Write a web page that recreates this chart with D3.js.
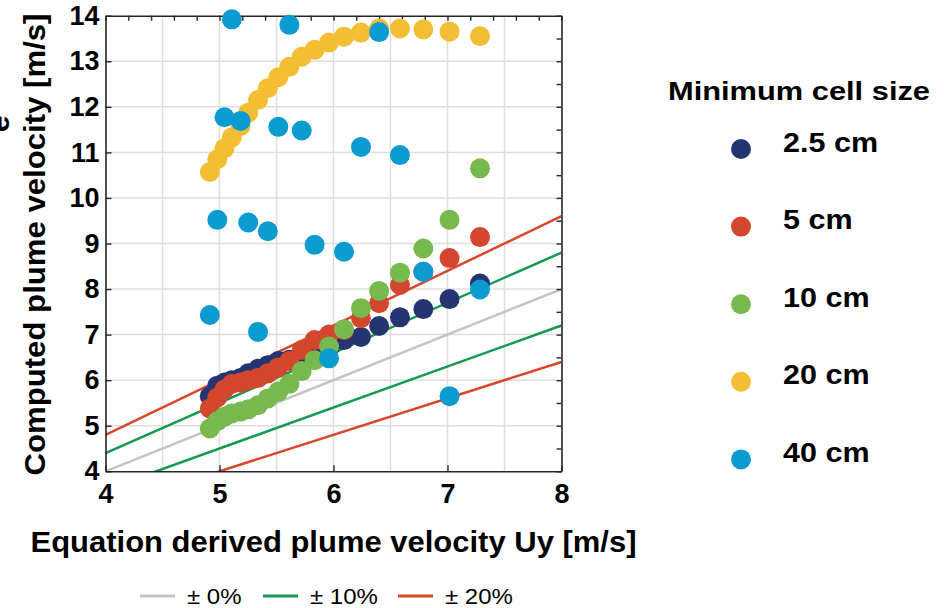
<!DOCTYPE html>
<meta charset="utf-8">
<script src="https://d3js.org/d3.v7.min.js"></script>
<style>
  body { margin: 0; background: #fff; }
  text { font-family: "Liberation Sans", Arial, sans-serif; }
</style>
<div id="chart"></div>
<script>

// equation derived plume velocity Uy [m/s], shared by all runs
var uyValues = [4.915, 4.981, 5.044, 5.108, 5.185, 5.252, 5.338, 5.424, 5.516, 5.613,
                5.721, 5.834, 5.961, 6.092, 6.241, 6.400, 6.583, 6.788, 7.018, 7.285];

// computed plume velocity [m/s] for each minimum cell size
var cell2p5 = [5.65, 5.88, 5.95, 6.00, 6.05, 6.15, 6.25, 6.33, 6.42, 6.45,
               6.50, 6.60, 6.70, 6.88, 6.95, 7.19, 7.38, 7.56, 7.78, 8.12];
var cell5   = [5.38, 5.62, 5.80, 5.92, 5.95, 6.00, 6.05, 6.15, 6.28, 6.42,
               6.66, 6.88, 7.00, 7.10, 7.36, 7.69, 8.09, 8.38, 8.68, 9.14];
var cell10  = [4.94, 5.10, 5.20, 5.27, 5.31, 5.36, 5.45, 5.60, 5.75, 5.92,
               6.20, 6.44, 6.74, 7.12, 7.58, 7.96, 8.36, 8.89, 9.52, 10.65];
var cell20  = [10.57, 10.85, 11.09, 11.33, 11.58, 11.87, 12.15, 12.41, 12.65, 12.88,
               13.10, 13.25, 13.41, 13.54, 13.63, 13.72, 13.72, 13.70, 13.65, 13.55];
var cell40  = [7.43, 9.52, 11.77, 13.92, 11.69, 9.46, 7.06, 9.27, 11.56, 13.80,
               11.48, 8.97, 6.48, 8.82, 11.12, 13.64, 10.94, 8.38, 5.65, 7.99];

var seriesNames  = ["2.5 cm", "5 cm", "10 cm", "20 cm", "40 cm"];
var seriesValues = [cell2p5, cell5, cell10, cell20, cell40];
var seriesColors = ["#253572", "#d4462e", "#77b94c", "#f3be33", "#0b9bd0"];

// deviation bands y = (1 +/- p) * x
var bandNames  = ["\u00b1 0%", "\u00b1 10%", "\u00b1 20%"];
var bandPct    = [0, 0.1, 0.2];
var bandColors = ["#c4c4c4", "#139a50", "#d9472c"];

var xTicks = [4, 5, 6, 7, 8];
var yTicks = [4, 5, 6, 7, 8, 9, 10, 11, 12, 13, 14];

var W = 944, H = 608;
var margin = {top: 15.7, left: 105.5},
    width = 456,
    height = 455.6;

var svg = d3.select("#chart")
  .append("svg")
    .attr("width", W)
    .attr("height", H);

var g = svg.append("g")
    .attr("transform", "translate(" + margin.left + "," + margin.top + ")");

var x = d3.scaleLinear().domain([4, 8]).range([0, width]);
var y = d3.scaleLinear().domain([4, 14]).range([height, 0]);

// the original figure's lettering is a bit wider than Arial, stretch it
function stretch(sel, k) {
  sel.each(function() {
    var len = this.getComputedTextLength();
    d3.select(this)
      .attr("textLength", len * k)
      .attr("lengthAdjust", "spacingAndGlyphs");
  });
}

// grid
g.append("g")
  .selectAll("line")
  .data(d3.range(4.5, 8, 0.5))
  .enter().append("line")
    .attr("x1", function(d) { return x(d); })
    .attr("x2", function(d) { return x(d); })
    .attr("y1", 0).attr("y2", height)
    .attr("stroke", "#dedede").attr("stroke-width", 1.5);
g.append("g")
  .selectAll("line")
  .data(d3.range(5, 14, 1))
  .enter().append("line")
    .attr("y1", function(d) { return y(d); })
    .attr("y2", function(d) { return y(d); })
    .attr("x1", 0).attr("x2", width)
    .attr("stroke", "#dedede").attr("stroke-width", 1.5);

// reference lines, clipped to the plot area
svg.append("clipPath").attr("id", "plotclip")
  .append("rect").attr("width", width).attr("height", height);

var bandLines = [];
bandPct.forEach(function(p, i) {
  var facs = p === 0 ? [1] : [1 + p, 1 - p];
  facs.forEach(function(f) { bandLines.push({f: f, color: bandColors[i]}); });
});
g.append("g")
  .attr("clip-path", "url(#plotclip)")
  .selectAll("line")
  .data(bandLines)
  .enter().append("line")
    .attr("x1", x(4)).attr("y1", function(d) { return y(4 * d.f); })
    .attr("x2", x(8)).attr("y2", function(d) { return y(8 * d.f); })
    .attr("stroke", function(d) { return d.color; })
    .attr("stroke-width", 2.5);

// axes
var axisColor = "#262626";
function styleAxis(sel, fontSize) {
  sel.select(".domain").attr("stroke", axisColor).attr("stroke-width", 1.6);
  sel.selectAll(".tick line").attr("stroke", axisColor).attr("stroke-width", 1.4);
  sel.selectAll(".tick text")
    .attr("fill", "#000")
    .style("font-size", fontSize)
    .style("font-weight", "bold");
}

g.append("g")
  .attr("transform", "translate(0," + height + ")")
  .call(d3.axisBottom(x).tickValues(xTicks).tickSize(-6).tickSizeOuter(0).tickPadding(13).tickFormat(d3.format("d")))
  .call(styleAxis, "27px");

g.append("g")
  .call(d3.axisLeft(y).tickValues(yTicks).tickSize(-6).tickSizeOuter(0).tickPadding(6).tickFormat(d3.format("d")))
  .call(styleAxis, "27px");

g.append("g")
  .call(d3.axisTop(x).tickValues(d3.range(4, 8.01, 0.2)).tickSize(-5).tickSizeOuter(0).tickFormat(""))
  .call(styleAxis, "0px");

g.append("g")
  .attr("transform", "translate(" + width + ",0)")
  .call(d3.axisRight(y).tickValues(d3.range(4, 14.01, 0.5)).tickSize(-5).tickSizeOuter(0).tickFormat(""))
  .call(styleAxis, "0px");

// scatter points
seriesValues.forEach(function(vals, i) {
  g.append("g")
    .selectAll("circle")
    .data(vals)
    .enter().append("circle")
      .attr("cx", function(d, j) { return x(uyValues[j]); })
      .attr("cy", function(d) { return y(d); })
      .attr("r", 10)
      .attr("fill", seriesColors[i]);
});

// axis labels
svg.append("text")
  .attr("x", margin.left + width / 2)
  .attr("y", 552)
  .attr("text-anchor", "middle")
  .style("font-size", "29px")
  .style("font-weight", "bold")
  .text("Equation derived plume velocity Uy [m/s]")
  .attr("textLength", 606)
  .attr("lengthAdjust", "spacingAndGlyphs");

svg.append("text")
  .attr("transform", "translate(45," + (margin.top + height / 2 + 1) + ") rotate(-90)")
  .attr("text-anchor", "middle")
  .style("font-size", "30px")
  .style("font-weight", "bold")
  .text("Computed plume velocity [m/s]")
  .attr("textLength", 462)
  .attr("lengthAdjust", "spacingAndGlyphs");

svg.append("text")
  .attr("transform", "translate(9,124) rotate(-90)")
  .attr("text-anchor", "middle")
  .style("font-size", "30px")
  .style("font-weight", "bold")
  .text("e");

// legend for cell size
var leg = svg.append("g");
leg.append("text")
  .attr("x", 668).attr("y", 100)
  .style("font-size", "26px")
  .style("font-weight", "bold")
  .text("Minimum cell size")
  .attr("textLength", 262)
  .attr("lengthAdjust", "spacingAndGlyphs");

var item = leg.selectAll(".item")
  .data(seriesNames)
  .enter().append("g")
    .attr("class", "item")
    .attr("transform", function(d, i) { return "translate(741," + (149 + i * 77.6) + ")"; });
item.append("circle")
  .attr("r", 10)
  .attr("fill", function(d, i) { return seriesColors[i]; });
item.append("text")
  .attr("x", 42).attr("y", 2.5)
  .style("font-size", "28px")
  .style("font-weight", "bold")
  .text(function(d) { return d; })
  .call(stretch, 1.09);

// legend for deviation lines
var bandX = [140, 263, 398];
var bl = svg.append("g").selectAll("g")
  .data(bandNames)
  .enter().append("g")
    .attr("transform", function(d, i) { return "translate(" + bandX[i] + ",596)"; });
bl.append("line")
  .attr("x1", 0).attr("x2", 35)
  .attr("stroke", function(d, i) { return bandColors[i]; })
  .attr("stroke-width", 2.8);
bl.append("text")
  .attr("x", 47).attr("y", 8)
  .style("font-size", "22px")
  .text(function(d) { return d; })
  .call(stretch, 1.09);

</script>
